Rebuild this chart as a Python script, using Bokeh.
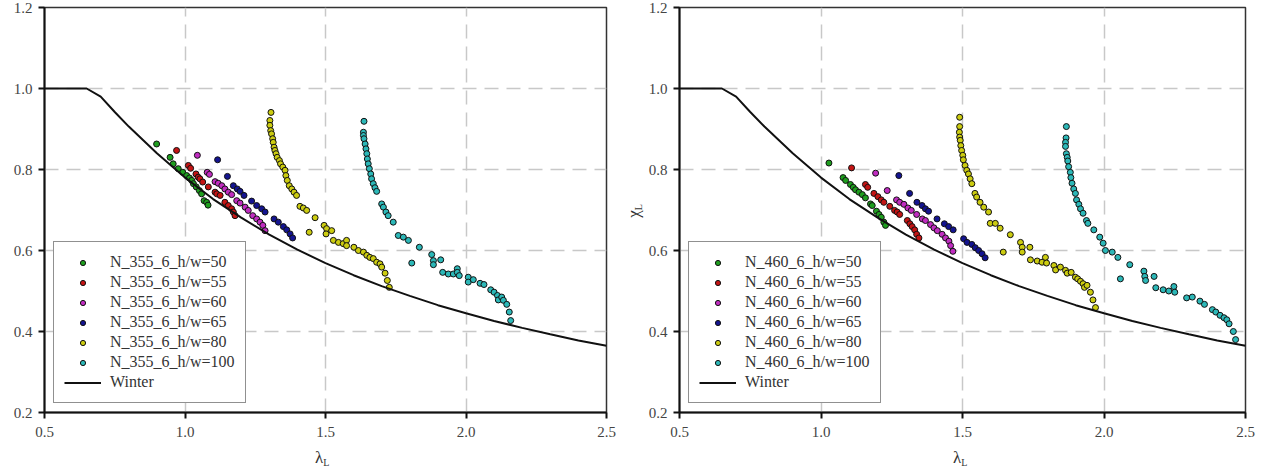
from bokeh.plotting import figure
from bokeh.layouts import row, column
from bokeh.models import FixedTicker, PrintfTickFormatter, Legend, LegendItem, Div
from bokeh.embed import file_html
from bokeh.resources import INLINE

# ---------------- data ----------------
x_ticks = [0.5, 1.0, 1.5, 2.0, 2.5]
y_ticks = [0.2, 0.4, 0.6, 0.8, 1.0, 1.2]

winter_x = [0.5, 0.65, 0.7, 0.75, 0.8, 0.9, 1.0, 1.1, 1.2, 1.3, 1.4, 1.5, 1.6, 1.7,
            1.8, 1.9, 2.0, 2.1, 2.2, 2.3, 2.4, 2.5]
winter_y = [1.0, 1.0, 0.980, 0.942, 0.906, 0.840, 0.780, 0.727, 0.681, 0.639, 0.602,
            0.569, 0.539, 0.512, 0.488, 0.465, 0.445, 0.426, 0.409, 0.393, 0.378, 0.365]

# left panel: N_355_6
l50_x = [0.899, 0.947, 0.958, 0.976, 0.992, 1.006, 1.016, 1.024, 1.030, 1.040, 1.051, 1.059, 1.068, 1.077, 1.082]
l50_y = [0.863, 0.830, 0.814, 0.802, 0.793, 0.785, 0.779, 0.773, 0.765, 0.757, 0.748, 0.740, 0.723, 0.719, 0.712]
l55_x = [0.970, 1.012, 1.020, 1.039, 1.047, 1.053, 1.063, 1.083, 1.107, 1.113, 1.125, 1.142, 1.154, 1.166, 1.172, 1.178]
l55_y = [0.847, 0.810, 0.803, 0.789, 0.781, 0.777, 0.769, 0.757, 0.744, 0.740, 0.736, 0.719, 0.711, 0.703, 0.695, 0.686]
l60_x = [1.044, 1.079, 1.087, 1.107, 1.118, 1.131, 1.142, 1.154, 1.166, 1.184, 1.196, 1.214, 1.225, 1.241, 1.255, 1.267, 1.277, 1.285]
l60_y = [0.835, 0.793, 0.788, 0.770, 0.766, 0.760, 0.752, 0.744, 0.738, 0.723, 0.717, 0.707, 0.699, 0.686, 0.678, 0.670, 0.662, 0.649]
l65_x = [1.116, 1.151, 1.172, 1.186, 1.196, 1.210, 1.237, 1.255, 1.273, 1.285, 1.317, 1.332, 1.350, 1.362, 1.374, 1.383]
l65_y = [0.824, 0.783, 0.760, 0.752, 0.746, 0.736, 0.722, 0.711, 0.703, 0.695, 0.678, 0.670, 0.659, 0.651, 0.641, 0.631]
l80_x = [1.306, 1.302, 1.302, 1.305, 1.308, 1.312, 1.314, 1.317, 1.320, 1.324, 1.328, 1.336, 1.340, 1.348, 1.356,
         1.359, 1.364, 1.371, 1.380, 1.388, 1.397, 1.409, 1.421, 1.433, 1.463, 1.442, 1.495, 1.504, 1.502, 1.522,
         1.528, 1.546, 1.563, 1.575, 1.575, 1.601, 1.617, 1.635, 1.647, 1.658, 1.670, 1.682, 1.694, 1.700, 1.712,
         1.720, 1.727]
l80_y = [0.941, 0.921, 0.909, 0.896, 0.888, 0.876, 0.867, 0.855, 0.847, 0.839, 0.830, 0.822, 0.814, 0.806, 0.798,
         0.785, 0.773, 0.760, 0.752, 0.744, 0.736, 0.709, 0.705, 0.699, 0.681, 0.645, 0.662, 0.654, 0.641, 0.649,
         0.625, 0.620, 0.617, 0.625, 0.612, 0.608, 0.600, 0.596, 0.588, 0.583, 0.580, 0.571, 0.567, 0.559, 0.544,
         0.526, 0.509]
l100_x = [1.637, 1.635, 1.635, 1.637, 1.641, 1.644, 1.647, 1.649, 1.652, 1.656, 1.661, 1.664, 1.670, 1.676, 1.682,
          1.700, 1.706, 1.715, 1.723, 1.741, 1.759, 1.777, 1.795, 1.834, 1.807, 1.878, 1.884, 1.884, 1.910, 1.917,
          1.937, 1.955, 1.969, 1.969, 1.976, 2.008, 2.008, 2.026, 2.050, 2.064, 2.088, 2.100, 2.112, 2.115, 2.127,
          2.133, 2.145, 2.154, 2.159]
l100_y = [0.919, 0.892, 0.884, 0.876, 0.863, 0.851, 0.839, 0.826, 0.814, 0.802, 0.789, 0.777, 0.765, 0.755, 0.746,
          0.715, 0.707, 0.695, 0.686, 0.670, 0.637, 0.633, 0.625, 0.608, 0.569, 0.590, 0.575, 0.565, 0.577, 0.546,
          0.542, 0.542, 0.555, 0.546, 0.538, 0.534, 0.522, 0.528, 0.519, 0.516, 0.503, 0.497, 0.489, 0.478, 0.485,
          0.477, 0.467, 0.448, 0.427]

# right panel: N_460_6
r50_x = [1.028, 1.078, 1.087, 1.104, 1.114, 1.122, 1.134, 1.146, 1.157, 1.175, 1.181, 1.196, 1.205, 1.213, 1.222, 1.228]
r50_y = [0.816, 0.780, 0.773, 0.763, 0.756, 0.750, 0.744, 0.738, 0.730, 0.715, 0.711, 0.697, 0.689, 0.682, 0.670, 0.662]
r55_x = [1.108, 1.157, 1.165, 1.187, 1.201, 1.213, 1.222, 1.243, 1.260, 1.269, 1.278, 1.305, 1.314, 1.322, 1.331, 1.338, 1.346]
r55_y = [0.804, 0.763, 0.756, 0.741, 0.733, 0.725, 0.719, 0.709, 0.699, 0.695, 0.689, 0.674, 0.666, 0.659, 0.651, 0.640, 0.631]
r60_x = [1.193, 1.234, 1.267, 1.278, 1.293, 1.307, 1.319, 1.338, 1.358, 1.369, 1.387, 1.399, 1.411, 1.428, 1.440, 1.452, 1.458, 1.466]
r60_y = [0.791, 0.748, 0.725, 0.719, 0.714, 0.705, 0.699, 0.689, 0.678, 0.674, 0.664, 0.656, 0.649, 0.640, 0.631, 0.623, 0.612, 0.598]
r65_x = [1.275, 1.313, 1.339, 1.357, 1.369, 1.380, 1.410, 1.436, 1.451, 1.467, 1.504, 1.516, 1.533, 1.545, 1.557, 1.569, 1.580]
r65_y = [0.785, 0.741, 0.719, 0.711, 0.703, 0.697, 0.678, 0.666, 0.659, 0.651, 0.629, 0.620, 0.615, 0.607, 0.600, 0.592, 0.582]
r80_x = [1.490, 1.490, 1.489, 1.490, 1.492, 1.494, 1.497, 1.501, 1.503, 1.509, 1.515, 1.521, 1.527, 1.533, 1.544,
         1.550, 1.562, 1.575, 1.592, 1.598, 1.616, 1.633, 1.669, 1.644, 1.705, 1.711, 1.711, 1.738, 1.740, 1.764,
         1.781, 1.793, 1.797, 1.823, 1.829, 1.846, 1.864, 1.870, 1.884, 1.899, 1.907, 1.917, 1.926, 1.931, 1.940,
         1.952, 1.961, 1.970]
r80_y = [0.929, 0.906, 0.892, 0.880, 0.872, 0.859, 0.847, 0.835, 0.824, 0.810, 0.798, 0.789, 0.777, 0.765, 0.741,
         0.732, 0.719, 0.707, 0.695, 0.667, 0.667, 0.655, 0.639, 0.596, 0.620, 0.608, 0.596, 0.608, 0.577, 0.574,
         0.571, 0.583, 0.569, 0.563, 0.552, 0.559, 0.551, 0.544, 0.546, 0.534, 0.530, 0.524, 0.518, 0.509, 0.514,
         0.497, 0.478, 0.459]
r100_x = [1.867, 1.866, 1.864, 1.864, 1.867, 1.870, 1.872, 1.875, 1.881, 1.883, 1.887, 1.893, 1.899, 1.903, 1.911,
          1.917, 1.926, 1.938, 1.943, 1.964, 1.985, 1.997, 2.005, 2.029, 2.049, 2.091, 2.058, 2.141, 2.144, 2.147,
          2.177, 2.183, 2.209, 2.229, 2.247, 2.250, 2.292, 2.312, 2.339, 2.355, 2.383, 2.395, 2.410, 2.424, 2.434,
          2.442, 2.457, 2.465]
r100_y = [0.906, 0.878, 0.867, 0.857, 0.839, 0.830, 0.821, 0.807, 0.793, 0.780, 0.766, 0.752, 0.741, 0.725, 0.714,
          0.703, 0.692, 0.674, 0.667, 0.651, 0.633, 0.618, 0.600, 0.596, 0.583, 0.565, 0.530, 0.549, 0.536, 0.526,
          0.536, 0.508, 0.503, 0.500, 0.511, 0.497, 0.483, 0.485, 0.475, 0.467, 0.454, 0.448, 0.440, 0.434, 0.429,
          0.419, 0.400, 0.380]

hw_values = ["50", "55", "60", "65", "80", "100"]
colors = ["#1e9e1e", "#c41414", "#c02cc0", "#141490", "#cccc10", "#2cb8b8"]

FONT = "Liberation Serif"


def make_panel(prefix, series, width, border_left, border_right):
    p = figure(width=width, height=448, x_range=(0.5, 2.5), y_range=(0.2, 1.2),
               output_backend="svg", toolbar_location=None,
               min_border_left=border_left, min_border_right=border_right,
               min_border_top=7, min_border_bottom=36)
    p.background_fill_color = "white"
    p.border_fill_color = "white"
    p.outline_line_color = "#333333"
    p.outline_line_width = 1.5

    for ax in (p.xaxis[0], p.yaxis[0]):
        ax.axis_line_width = 2
        ax.axis_line_color = "#111111"
        ax.major_tick_line_color = "#111111"
        ax.major_tick_line_width = 2
        ax.major_tick_out = 6
        ax.major_tick_in = 0
        ax.minor_tick_line_color = None
        ax.major_label_text_font = FONT
        ax.major_label_text_font_size = "15px"
        ax.major_label_text_color = "#444444"
        ax.formatter = PrintfTickFormatter(format="%.1f")
    p.xaxis[0].ticker = FixedTicker(ticks=x_ticks)
    p.yaxis[0].ticker = FixedTicker(ticks=y_ticks)
    p.xaxis[0].major_label_standoff = 8
    p.yaxis[0].major_label_standoff = 6

    for g in (p.xgrid[0], p.ygrid[0]):
        g.grid_line_color = "#c8c8c8"
        g.grid_line_width = 1.5
        g.grid_line_dash = "14 8"
    p.xgrid[0].ticker = FixedTicker(ticks=x_ticks)
    p.ygrid[0].ticker = FixedTicker(ticks=y_ticks)

    items = []
    for (xs, ys), hw, col in zip(series, hw_values, colors):
        r = p.scatter(xs, ys, size=6, fill_color=col, line_color="#111111", line_width=1)
        items.append(LegendItem(label=f"{prefix}_h/w={hw}", renderers=[r]))
    wl = p.line(winter_x, winter_y, line_color="#111111", line_width=2)
    items.append(LegendItem(label="Winter", renderers=[wl]))

    leg = Legend(items=items, location=(9, 9))
    leg.label_text_font = FONT
    leg.label_text_font_size = "16px"
    leg.label_text_color = "#333333"
    leg.border_line_color = "#222222"
    leg.border_line_width = 1.5
    leg.padding = 10
    leg.spacing = 0
    leg.margin = 0
    leg.glyph_width = 37
    leg.glyph_height = 13
    leg.label_height = 20
    leg.label_standoff = 9
    leg.background_fill_alpha = 1
    p.add_layout(leg, "center")
    return p


left_series = [(l50_x, l50_y), (l55_x, l55_y), (l60_x, l60_y), (l65_x, l65_y), (l80_x, l80_y), (l100_x, l100_y)]
right_series = [(r50_x, r50_y), (r55_x, r55_y), (r60_x, r60_y), (r65_x, r65_y), (r80_x, r80_y), (r100_x, r100_y)]

p1 = make_panel("N_355_6", left_series, 625, 44, 19)
p2 = make_panel("N_460_6", right_series, 625, 34, 25)

LBL = "font-family:'Liberation Serif',serif; font-size:17px; line-height:17px; color:#333333; white-space:nowrap;"
SUB = "font-size:10px; vertical-align:-3px;"

chi_div = Div(text=f'<div style="{LBL} margin-top:200px; margin-left:0px; width:22px; text-align:center; '
                   f'transform:rotate(-90deg);">χ<span style="{SUB}">L</span></div>',
              width=20, height=448, margin=0)
lam1 = Div(text=f'<div style="{LBL} margin-left:315px; margin-top:1px;">λ<span style="{SUB}">L</span></div>',
           width=635, height=20, margin=0)
lam2 = Div(text=f'<div style="{LBL} margin-left:318px; margin-top:1px;">λ<span style="{SUB}">L</span></div>',
           width=635, height=20, margin=0)

layout = column(row(p1, chi_div, p2, spacing=0), row(lam1, lam2, spacing=0), spacing=0)
open("out.html", "w").write(file_html(layout, INLINE))
